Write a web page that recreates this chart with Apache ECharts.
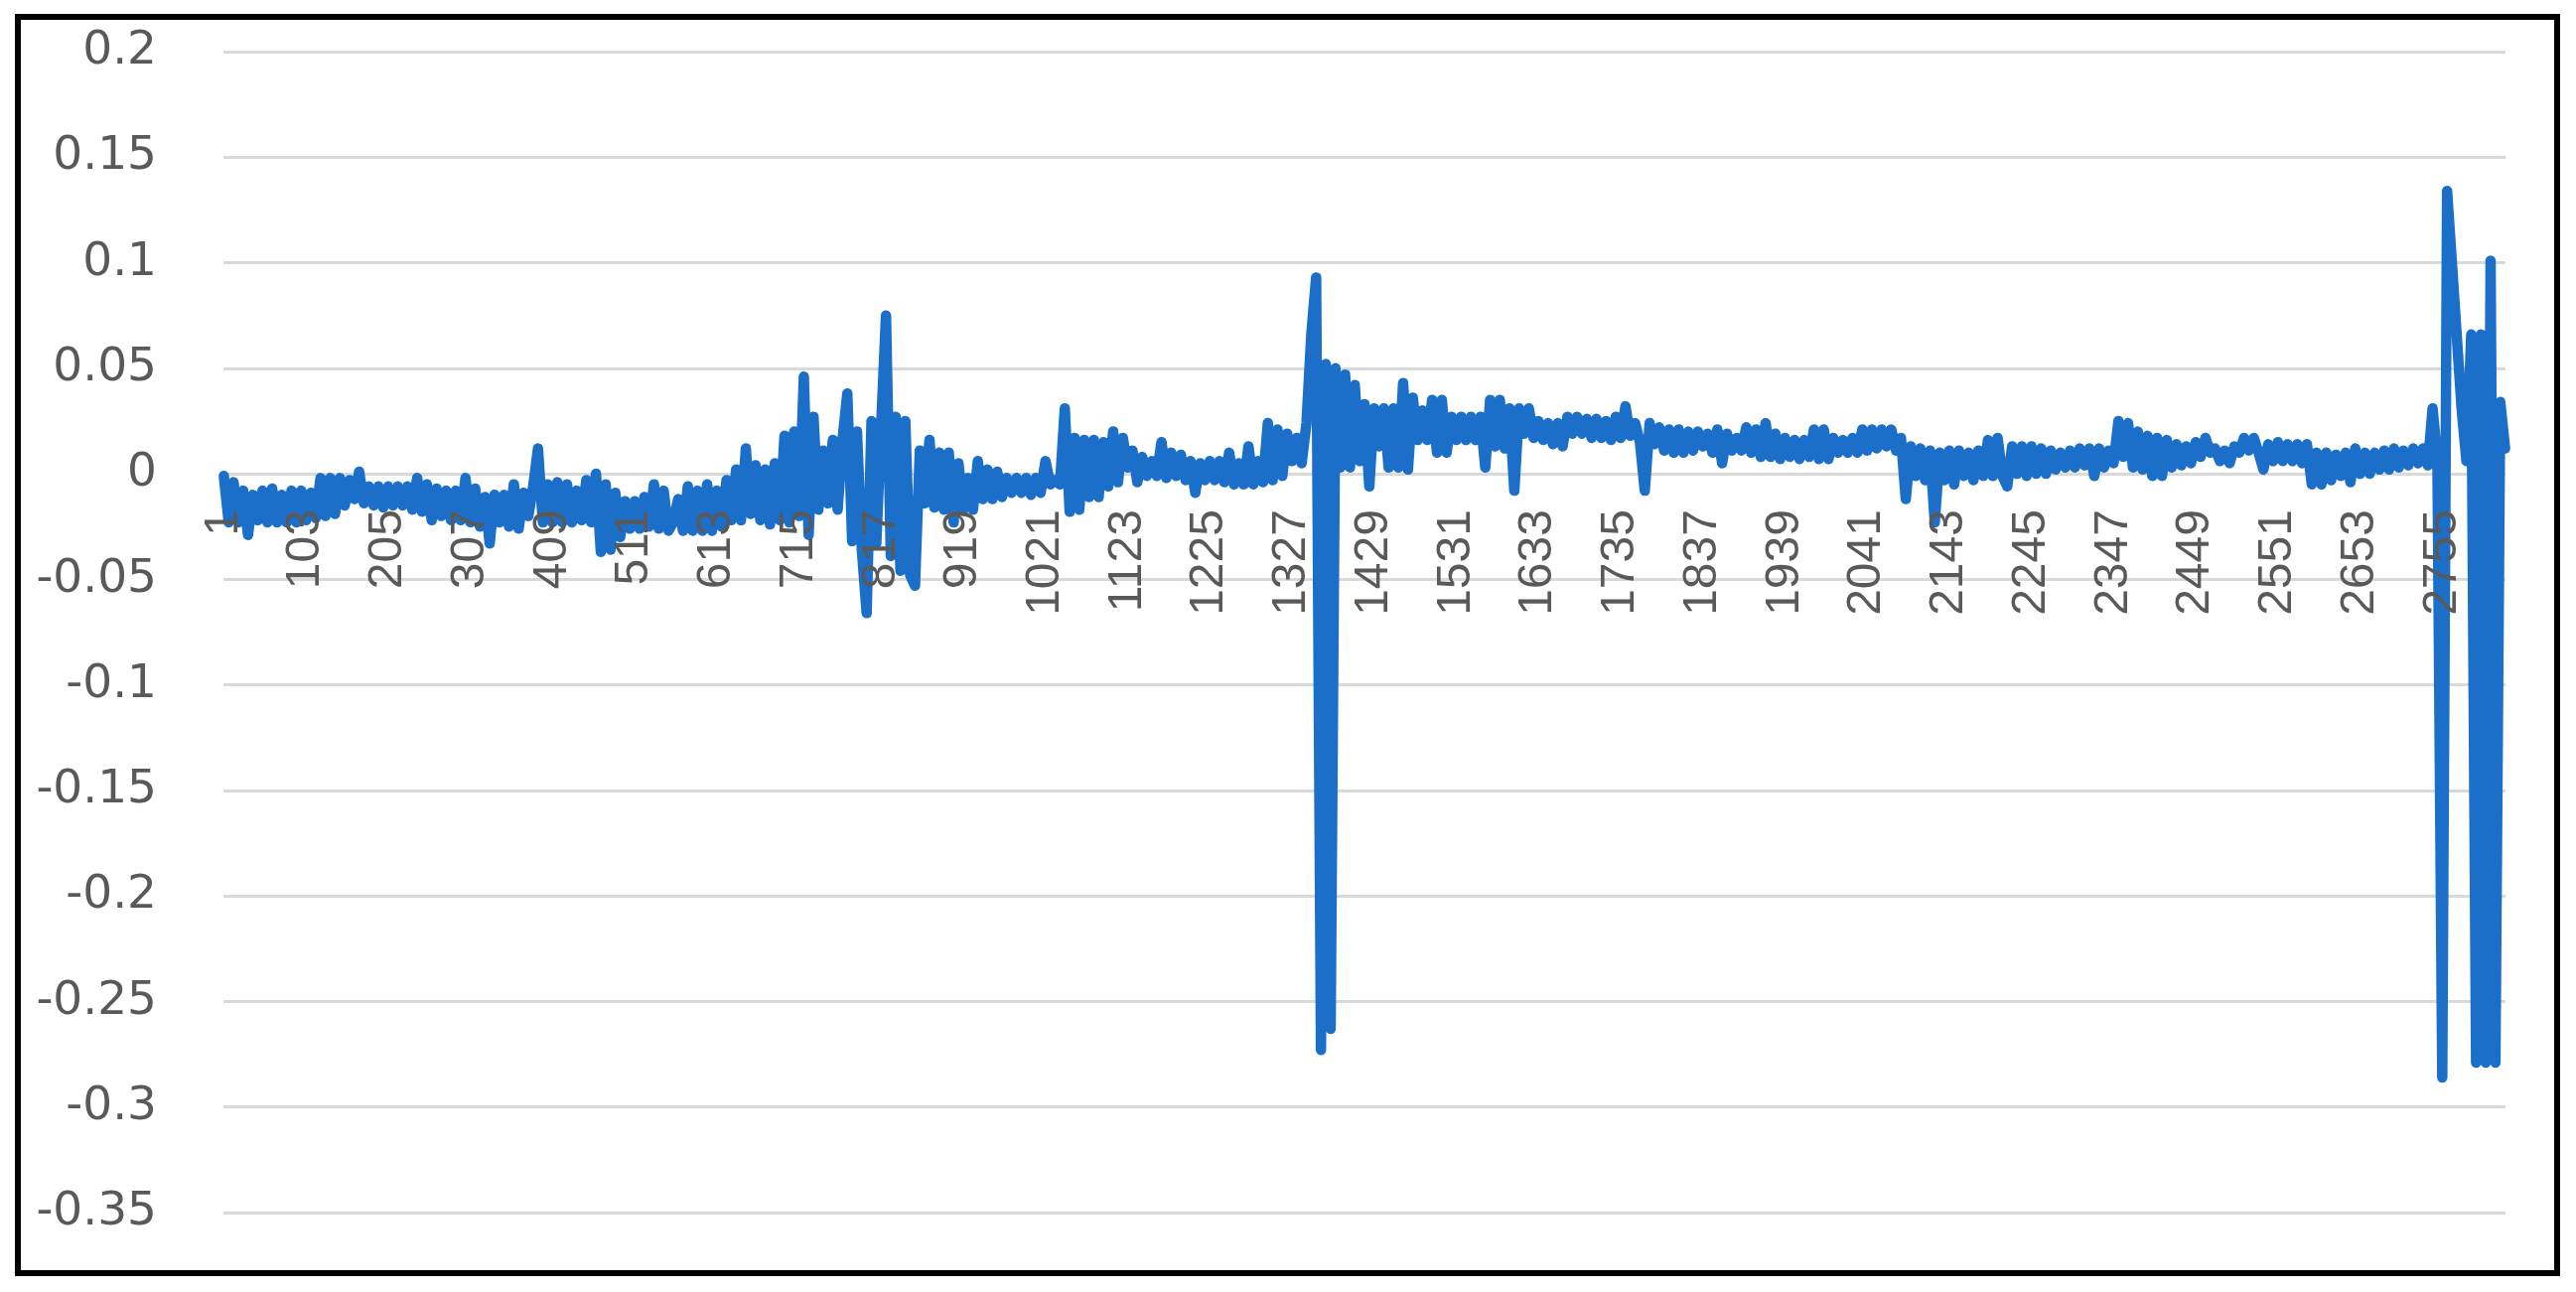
<!DOCTYPE html>
<html>
<head>
<meta charset="utf-8">
<script src="https://cdn.jsdelivr.net/npm/echarts@6/dist/echarts.min.js"></script>
<style>
html,body{margin:0;padding:0;background:#ffffff;}
#chart{width:2594px;height:1301px;}
</style>
</head>
<body>
<div id="chart"></div>
<script>
// Category axis: observations numbered 1..N, labelled every 102 (1, 103, 205, ...)
const N_CATEGORIES = 2833;
const LABEL_EVERY = 102;
const STEP = 6;
const seg1 = [ // readings 0-99
 -0.001,-0.023,-0.004,-0.023,-0.008,-0.029,-0.010,-0.022,-0.008,-0.023,
 -0.007,-0.023,-0.010,-0.023,-0.008,-0.023,-0.008,-0.022,-0.009,-0.021,
 -0.002,-0.020,-0.002,-0.019,-0.002,-0.015,-0.003,-0.012, 0.001,-0.014,
 -0.006,-0.015,-0.006,-0.016,-0.006,-0.015,-0.006,-0.015,-0.006,-0.017,
 -0.002,-0.018,-0.005,-0.022,-0.007,-0.020,-0.008,-0.022,-0.008,-0.022,
 -0.002,-0.023,-0.007,-0.025,-0.011,-0.033,-0.010,-0.023,-0.010,-0.025,
 -0.005,-0.026,-0.009,-0.020,-0.006, 0.012,-0.023,-0.005,-0.023,-0.004,
 -0.023,-0.005,-0.023,-0.008,-0.022,-0.003,-0.023, 0.000,-0.037,-0.005,
 -0.036,-0.009,-0.030,-0.013,-0.026,-0.013,-0.026,-0.011,-0.025,-0.005,
 -0.026,-0.008,-0.027,-0.023,-0.012,-0.027,-0.006,-0.027,-0.008,-0.027
];
const seg2 = [ // readings 100-199
 -0.005,-0.027,-0.008,-0.025,-0.003,-0.022, 0.002,-0.022, 0.012,-0.019,
  0.004,-0.022, 0.002,-0.024, 0.005,-0.022, 0.018,-0.023, 0.020,-0.020,
  0.046,-0.029, 0.027,-0.017, 0.011,-0.014, 0.016,-0.017, 0.016, 0.038,
 -0.032, 0.020,-0.036,-0.066, 0.025,-0.033, 0.023, 0.075,-0.039, 0.027,
 -0.046, 0.025,-0.048,-0.053, 0.011,-0.014, 0.016,-0.016, 0.010,-0.017,
  0.010,-0.023, 0.005,-0.017,-0.002,-0.017, 0.006,-0.012, 0.002,-0.012,
  0.001,-0.011,-0.002,-0.009,-0.002,-0.009,-0.002,-0.010,-0.002,-0.009,
  0.006,-0.005,-0.003,-0.005, 0.031,-0.018, 0.017,-0.017, 0.016,-0.011,
  0.016,-0.011, 0.015,-0.006, 0.020,-0.004, 0.017, 0.003, 0.011,-0.004,
  0.008,-0.001, 0.006,-0.001, 0.015,-0.002, 0.010,-0.001, 0.009,-0.003
];
const seg3 = [ // readings 200-299
  0.006,-0.009, 0.005,-0.003, 0.006,-0.003, 0.006,-0.004, 0.010,-0.005,
  0.005,-0.005, 0.013,-0.005, 0.006,-0.004, 0.024,-0.003, 0.021,-0.001,
  0.019, 0.006, 0.017, 0.005, 0.024, 0.066, 0.093,-0.273, 0.052,-0.263,
  0.050, 0.003, 0.047, 0.003, 0.042, 0.006, 0.033,-0.006, 0.031, 0.013,
  0.031, 0.003, 0.031, 0.003, 0.043, 0.002, 0.036, 0.016, 0.030, 0.016,
  0.035, 0.010, 0.035, 0.010, 0.027, 0.016, 0.027, 0.016, 0.027, 0.016,
  0.027, 0.003, 0.035, 0.013, 0.035, 0.012, 0.031,-0.008, 0.031, 0.019,
  0.031, 0.017, 0.025, 0.016, 0.024, 0.014, 0.024, 0.013, 0.027, 0.019,
  0.027, 0.019, 0.026, 0.017, 0.026, 0.017, 0.025, 0.016, 0.027, 0.017,
  0.032, 0.018, 0.024, 0.015,-0.008, 0.024, 0.014, 0.022, 0.011, 0.021
];
const seg4 = [ // readings 300-399
  0.010, 0.021, 0.010, 0.020, 0.011, 0.020, 0.013, 0.019, 0.010, 0.021,
  0.005, 0.019, 0.011, 0.017, 0.011, 0.022, 0.010, 0.021, 0.008, 0.024,
  0.008, 0.019, 0.007, 0.017, 0.008, 0.016, 0.007, 0.016, 0.008, 0.021,
  0.007, 0.021, 0.007, 0.017, 0.010, 0.016, 0.010, 0.017, 0.010, 0.021,
  0.011, 0.021, 0.012, 0.021, 0.013, 0.021, 0.011, 0.017,-0.012, 0.013,
 -0.001, 0.012,-0.003, 0.011,-0.023, 0.010,-0.003, 0.011,-0.005, 0.011,
 -0.001, 0.010,-0.003, 0.011,-0.001, 0.016,-0.001, 0.017,-0.001,-0.006,
  0.013, 0.000, 0.013,-0.001, 0.013, 0.000, 0.012, 0.000, 0.011, 0.002,
  0.010, 0.003, 0.011, 0.003, 0.012, 0.004, 0.012,-0.001, 0.012, 0.003,
  0.011, 0.005, 0.025, 0.008, 0.024, 0.003, 0.020, 0.002, 0.018,-0.001
];
const seg5 = [ // readings 400-472
  0.017,-0.001, 0.016, 0.003, 0.014, 0.004, 0.013, 0.005, 0.015, 0.008,
  0.017, 0.010, 0.012, 0.006, 0.011, 0.005, 0.013, 0.010, 0.017, 0.011,
  0.017, 0.010, 0.002, 0.014, 0.006, 0.015, 0.006, 0.014, 0.006, 0.014,
  0.005, 0.014,-0.005, 0.010,-0.005, 0.010,-0.003, 0.009,-0.001, 0.010,
 -0.004, 0.012, 0.000, 0.010, 0.000, 0.010, 0.002, 0.011, 0.002, 0.012,
  0.003, 0.011, 0.004, 0.012, 0.005, 0.012, 0.004, 0.031, 0.006,-0.286,
  0.134, null,  null,  0.031, 0.006, 0.066,-0.279, 0.066,-0.279, 0.101,
 -0.279, 0.034, 0.012
];
const values = seg1.concat(seg2, seg3, seg4, seg5);

const categories = [];
for (let i = 1; i <= N_CATEGORIES; i++) categories.push(String(i));

const seriesData = [];
values.forEach(function (v, k) {
  if (v !== null) seriesData.push([k * STEP, v]);
});

// plot area
const GRID = {left: 225, right: 71, top: 52, bottom: 80};
const Y_MIN = -0.35, Y_MAX = 0.2;
const plotH = 1301 - GRID.top - GRID.bottom;
// move the category axis up from the plot bottom to the value 0 (as in the reference)
const zeroOffset = -(plotH * (0 - Y_MIN) / (Y_MAX - Y_MIN));

const chart = echarts.init(document.getElementById('chart'), null, {renderer: 'canvas'});
chart.setOption({
  animation: false,
  backgroundColor: '#ffffff',
  grid: {left: GRID.left, right: GRID.right, top: GRID.top, bottom: GRID.bottom, containLabel: false},
  xAxis: {
    type: 'category',
    data: categories,
    boundaryGap: true,
    position: 'bottom',
    offset: zeroOffset,
    z: 10,
    axisLine: {show: false, onZero: false},
    axisTick: {show: false},
    splitLine: {show: false},
    axisLabel: {
      interval: LABEL_EVERY - 1,
      rotate: 90,
      margin: 36,
      fontSize: 48,
      color: '#595959',
      fontFamily: '"Liberation Sans", Arial, sans-serif'
    }
  },
  yAxis: {
    type: 'value',
    min: Y_MIN,
    max: Y_MAX,
    interval: 0.05,
    axisLine: {show: false},
    axisTick: {show: false},
    splitLine: {show: true, lineStyle: {color: '#d9d9d9', width: 3}},
    axisLabel: {
      margin: 67,
      fontSize: 47,
      color: '#595959',
      fontFamily: '"DejaVu Sans", sans-serif'
    }
  },
  series: [{
    type: 'line',
    data: seriesData,
    showSymbol: false,
    symbol: 'none',
    connectNulls: true,
    z: 2,
    lineStyle: {color: '#1b6fc8', width: 10.5, join: 'round', cap: 'round'}
  }],
  graphic: [{
    type: 'rect',
    silent: true,
    z: 100,
    shape: {x: 18, y: 17, width: 2557, height: 1265},
    style: {fill: 'none', stroke: '#000000', lineWidth: 6}
  }]
});
</script>
</body>
</html>
